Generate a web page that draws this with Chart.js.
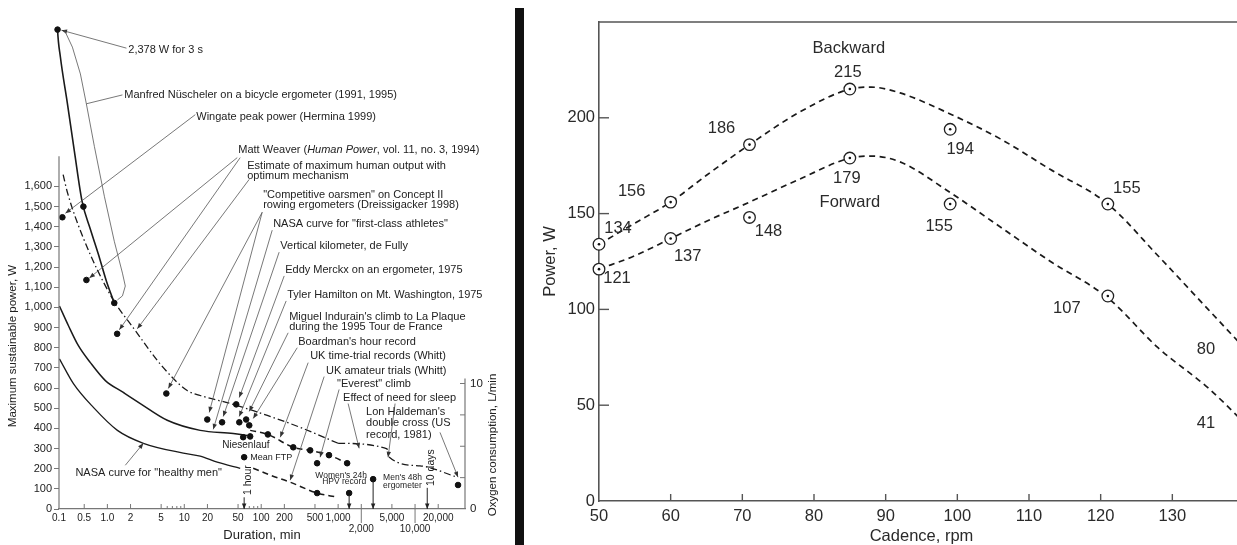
<!DOCTYPE html>
<html>
<head>
<meta charset="utf-8">
<title>Power vs duration / power vs cadence</title>
<script src="https://cdn.jsdelivr.net/npm/chart.js@4.4.1/dist/chart.umd.min.js"></script>
<style>
  html, body { margin: 0; padding: 0; background: #fff; overflow: hidden; }
  body { width: 1237px; height: 545px; position: relative; }
  #left { position: absolute; left: 0; top: 0; }
  #bar { position: absolute; left: 515px; top: 8px; width: 9px; height: 537px; background: #111; }
  #right { position: absolute; left: 525px; top: 0; }
</style>
</head>
<body>
<div id="left"><canvas id="durationChart" width="505" height="545"></canvas></div>
<div id="bar"></div>
<div id="right"><canvas id="cadenceChart" width="740" height="545"></canvas></div>

<script>
// ---------- left panel: maximum sustainable power vs duration ----------
const durationTicks = [0.235, 0.5, 1, 2, 5, 10, 20, 50, 100, 200, 500, 1000, 2000, 5000, 10000, 20000];
const durationTickText = ['0.1', '0.5', '1.0', '2', '5', '10', '20', '50', '100', '200', '500', '1,000', ['', '2,000'], '5,000', ['', '10,000'], '20,000'];
const durationMinorTicks = [6, 7, 8, 9, 60, 70, 80, 90];
const powerTicks = [0, 100, 200, 300, 400, 500, 600, 700, 800, 900, 1000, 1100, 1200, 1300, 1400, 1500, 1600];
const oxygenTicks = [0, 10];
const oxygenMinorTicks = [2.5, 5, 7.5, 10];

// [minutes, watts]
const nuschelerCurve = [[0.222, 2440], [0.225, 2378], [0.245, 2242], [0.30, 2020], [0.373, 1773], [0.469, 1526], [0.601, 1388], [0.764, 1264], [0.97, 1131], [1.23, 1022]];
const estimateCurve = [[0.266, 1659], [0.30, 1575], [0.488, 1343], [1.15, 1047], [2.17, 899], [5.34, 701], [10.9, 588], [16.1, 563], [43.3, 519], [120, 464], [321, 405], [1000, 326]];
const sleepCurve = [[1000, 326], [4330, 298], [4460, 262], [11600, 214], [35100, 158]];
const firstClassCurve = [[0.238, 1007], [0.312, 909], [0.42, 810], [0.601, 726], [0.942, 637], [1.61, 578], [2.68, 523], [6.0, 440], [16.1, 390], [43.3, 375], [65.8, 365]];
const healthyMenCurve = [[0.238, 745], [0.362, 622], [0.658, 504], [1.35, 390], [2.94, 326], [9.7, 277], [16.1, 262], [26.8, 232], [53.3, 202]];
const ukTrialCurve = [[71.9, 390], [122, 370], [261, 306], [433, 291], [761, 267], [1310, 227]];
const everestCurve = [[78.7, 202], [131, 168], [238, 133], [533, 79], [970, 59]];
const recordPoints = [[0.225, 2378], [0.26, 1447], [0.488, 1500], [0.534, 1136], [1.23, 1022], [1.34, 869], [5.84, 573],
  [19.9, 444], [31, 430], [47.3, 519], [51.9, 430], [63.7, 444], [69.9, 415], [58.3, 356], [71.8, 360], [122, 370],
  [261, 306], [433, 291], [533, 227], [761, 267], [1310, 227], [60, 257], [533, 79], [1390, 79], [2850, 148], [36200, 119]];
const nuschelerBrace = [[0.277, 2375], [0.351, 2291], [0.446, 2158], [0.533, 2010], [0.678, 1798], [0.914, 1551], [1.23, 1328], [1.57, 1170], [1.71, 1106], [1.57, 1057], [1.35, 1037]];

// text, minutes, watts (left edge, middle), font size
const durationNotes = [
  ['2,378 W for 3 s', 1.87, 2277, 11],
  ['Manfred Nüscheler on a bicycle ergometer (1991, 1995)', 1.66, 2054, 11],
  ['Wingate peak power (Hermina 1999)', 14.3, 1946, 11],
  ['Matt Weaver (|Human Power|, vol. 11, no. 3, 1994)', 50.3, 1783, 11],
  ['Estimate of maximum human output with', 65.8, 1704, 11],
  ['optimum mechanism', 65.8, 1652, 11],
  ['"Competitive oarsmen" on Concept II', 106, 1556, 11],
  ['rowing ergometers (Dreissigacker 1998)', 106, 1506, 11],
  ['NASA curve for "first-class athletes"', 143, 1412, 11],
  ['Vertical kilometer, de Fully', 177, 1304, 11],
  ['Eddy Merckx on an ergometer, 1975', 205, 1185, 11],
  ['Tyler Hamilton on Mt. Washington, 1975', 218, 1062, 11],
  ["Miguel Indurain's climb to La Plaque", 231, 953, 11],
  ['during the 1995 Tour de France', 231, 904, 11],
  ["Boardman's hour record", 303, 830, 11],
  ['UK time-trial records (Whitt)', 433, 760, 11],
  ['UK amateur trials (Whitt)', 698, 686, 11],
  ['"Everest" climb', 970, 622, 11],
  ['Effect of need for sleep', 1161, 553, 11],
  ["Lon Haldeman's", 2311, 479, 11],
  ['double cross (US', 2311, 425, 11],
  ['record, 1981)', 2311, 365, 11],
  ['Niesenlauf', 31.2, 316, 10],
  ['Mean FTP', 71.9, 257, 9],
  ["Men's 48h", 3840, 153, 8.5],
  ['ergometer', 3840, 114, 8.5],
  ['NASA curve for "healthy men"', 0.384, 178, 11],
];
const durationCentredNotes = [["Women's 24h", 1094, 166], ['HPV record', 1197, 136]];
const durationUpNotes = [['1 hour', 67, 143], ['10 days', 16100, 205]];
// from (min, W) to (min, W), arrowhead?
const durationLeaders = [
  [1.77, 2286, 0.253, 2375, 1],
  [1.57, 2054, 0.533, 2010, 0],
  [13.9, 1956, 0.285, 1467, 1],
  [48.8, 1743, 0.584, 1146, 1],
  [53.3, 1743, 1.43, 889, 1],
  [69.8, 1635, 2.45, 894, 1],
  [103, 1472, 6.2, 598, 1],
  [103, 1472, 21.1, 479, 1],
  [139, 1383, 23.8, 395, 1],
  [171, 1274, 32.1, 459, 1],
  [199, 1156, 51.8, 553, 1],
  [211, 1032, 51.8, 459, 1],
  [224, 874, 69.8, 484, 1],
  [294, 800, 78.7, 449, 1],
  [408, 726, 177, 356, 1],
  [658, 657, 238, 143, 1],
  [1030, 593, 583, 257, 1],
  [1349, 523, 1875, 301, 1],
  [5500, 523, 4460, 257, 1],
  [21100, 380, 36200, 158, 1],
  [1.71, 217, 2.94, 326, 1],
];
// vertical arrows down to the axis: minutes, starting watts
const durationDrops = [[60, 58], [1390, 66], [2850, 138], [14400, 105]];

// ---------- right panel: power vs cadence ----------
const cadence = [50, 60, 71, 85, 99, 121];
const backwardPower = [134, 156, 186, 215, 194, 155];
const forwardPower = [121, 137, 148, 179, 155, 107];
const fitCadence = [50, 55, 60, 65, 71, 78, 85, 88, 92, 99, 106, 113, 121, 128, 135, 140];
const backwardFit = [134, 145, 156, 170, 186, 203, 215, 216, 213, 202, 189, 173, 155, 128, 100, 80];
const forwardFit = [121, 128, 137, 146, 156, 168, 179, 180, 177, 161, 143, 125, 106, 80, 59, 41];
const cadenceTicks = [50, 60, 70, 80, 90, 100, 110, 120, 130];
const cadencePowerTicks = [0, 50, 100, 150, 200];
// label offsets in px from each point
const backwardLabelShift = [[19, -16], [-39, -11], [-28, -16], [-2, -17], [10, 20], [19, -16]];
const forwardLabelShift = [[18, 9], [17, 18], [19, 14], [-3, 20], [-11, 22], [-41, 12]];

const fontFamily = "'Liberation Sans', Arial, Helvetica, sans-serif";
const ink = '#222';
const axisGrey = '#777';
Chart.defaults.font.family = fontFamily;

const pairs = list => list.map(([x, y]) => ({x, y}));

function drawArrow(ctx, x1, y1, x2, y2, head) {
  ctx.beginPath();
  ctx.moveTo(x1, y1);
  ctx.lineTo(x2, y2);
  ctx.stroke();
  if (!head) return;
  const a = Math.atan2(y2 - y1, x2 - x1);
  ctx.beginPath();
  ctx.moveTo(x2, y2);
  ctx.lineTo(x2 - 6 * Math.cos(a - 0.38), y2 - 6 * Math.sin(a - 0.38));
  ctx.lineTo(x2 - 6 * Math.cos(a + 0.38), y2 - 6 * Math.sin(a + 0.38));
  ctx.closePath();
  ctx.fill();
}

const durationDecor = {
  id: 'durationDecor',
  afterDraw(chart) {
    const {ctx, chartArea: area, scales: {x, y, y2}} = chart;
    const px = v => x.getPixelForValue(v);
    const py = v => y.getPixelForValue(v);
    ctx.save();

    // axis lines
    ctx.strokeStyle = axisGrey;
    ctx.lineWidth = 1.2;
    ctx.beginPath();
    ctx.moveTo(area.left, py(1750));
    ctx.lineTo(area.left, py(0));
    ctx.stroke();
    ctx.beginPath();
    ctx.moveTo(area.right, y2.getPixelForValue(10.4));
    ctx.lineTo(area.right, y2.getPixelForValue(0));
    ctx.stroke();
    ctx.lineWidth = 1;
    oxygenMinorTicks.forEach(v => {
      const yy = y2.getPixelForValue(v);
      ctx.beginPath();
      ctx.moveTo(area.right - 5, yy);
      ctx.lineTo(area.right, yy);
      ctx.stroke();
    });
    durationTicks.slice(1).forEach(v => {
      const xx = px(v);
      const long = v === 2000 || v === 10000;
      ctx.beginPath();
      ctx.moveTo(xx, area.bottom - 5);
      ctx.lineTo(xx, long ? area.bottom + 14 : area.bottom);
      ctx.stroke();
    });
    durationMinorTicks.forEach(v => {
      ctx.beginPath();
      ctx.moveTo(px(v), area.bottom - 3);
      ctx.lineTo(px(v), area.bottom);
      ctx.stroke();
    });

    // leader lines
    ctx.strokeStyle = '#555';
    ctx.fillStyle = '#333';
    ctx.lineWidth = 0.8;
    durationLeaders.forEach(([m1, w1, m2, w2, head]) => drawArrow(ctx, px(m1), py(w1), px(m2), py(w2), head));
    ctx.beginPath();
    nuschelerBrace.forEach(([m, w], i) => (i ? ctx.lineTo(px(m), py(w)) : ctx.moveTo(px(m), py(w))));
    ctx.stroke();
    ctx.strokeStyle = '#222';
    ctx.fillStyle = '#222';
    ctx.lineWidth = 1;
    durationDrops.forEach(([m, w]) => drawArrow(ctx, px(m), py(w), px(m), py(0), 1));

    // notes
    ctx.fillStyle = ink;
    ctx.textBaseline = 'middle';
    ctx.textAlign = 'left';
    durationNotes.forEach(([text, m, w, size]) => {
      let xx = px(m);
      text.split('|').forEach((part, i) => {
        ctx.font = (i % 2 ? 'italic ' : '') + size + 'px ' + fontFamily;
        ctx.fillText(part, xx, py(w));
        xx += ctx.measureText(part).width;
      });
    });
    ctx.textAlign = 'center';
    ctx.font = '8.5px ' + fontFamily;
    durationCentredNotes.forEach(([text, m, w]) => ctx.fillText(text, px(m), py(w)));
    ctx.font = '10.5px ' + fontFamily;
    durationUpNotes.forEach(([text, m, w]) => {
      ctx.save();
      ctx.translate(px(m), py(w));
      ctx.rotate(-Math.PI / 2);
      ctx.fillText(text, 0, 0);
      ctx.restore();
    });

    // axis titles
    ctx.font = '11.5px ' + fontFamily;
    [['Maximum sustainable power, W', 13, 346], ['Oxygen consumption, L/min', 493, 445]].forEach(([text, xx, yy]) => {
      ctx.save();
      ctx.translate(xx, yy);
      ctx.rotate(-Math.PI / 2);
      ctx.fillText(text, 0, 0);
      ctx.restore();
    });
    ctx.restore();
  }
};

const curve = (list, dash, width) => ({
  data: pairs(list), showLine: true, pointRadius: 0, borderColor: '#1a1a1a', borderWidth: width,
  borderDash: dash, cubicInterpolationMode: 'monotone', clip: false
});

new Chart(document.getElementById('durationChart'), {
  type: 'scatter',
  data: {
    datasets: [
      {data: pairs(recordPoints), pointRadius: 2.8, pointBackgroundColor: '#111', pointBorderColor: '#111', pointBorderWidth: 1, clip: false},
      curve(nuschelerCurve, [], 1.6),
      curve(estimateCurve, [7, 3, 1.5, 3], 1.3),
      curve(sleepCurve, [7, 3, 1.5, 3], 1.3),
      curve(firstClassCurve, [], 1.5),
      curve(healthyMenCurve, [], 1.3),
      curve(ukTrialCurve, [6, 4], 1.5),
      curve(everestCurve, [6, 4], 1.5),
    ],
  },
  options: {
    responsive: false,
    animation: false,
    layout: {padding: {top: 3, left: 0, right: 0, bottom: 0}},
    plugins: {legend: {display: false}, tooltip: {enabled: false}},
    scales: {
      x: {
        type: 'logarithmic', min: 0.235, max: 44600,
        afterBuildTicks: s => { s.ticks = durationTicks.map(value => ({value})); },
        afterFit: s => { s.height = 36; },
        grid: {display: false, drawTicks: false, tickLength: 0},
        border: {display: true, color: axisGrey, width: 1.2},
        ticks: {
          autoSkip: false, maxRotation: 0, padding: 4, color: ink,
          font: {size: 10, lineHeight: 1.05},
          callback: (v, i) => durationTickText[i],
        },
        title: {display: true, text: 'Duration, min', color: ink, font: {size: 13}, padding: {top: 0, bottom: 2}},
      },
      y: {
        min: 0, max: 2500,
        afterBuildTicks: s => { s.ticks = powerTicks.map(value => ({value})); },
        afterFit: s => { s.width = 59; s.paddingTop = 0; s.paddingBottom = 0; },
        grid: {display: true, drawOnChartArea: false, drawTicks: true, tickLength: 5, color: axisGrey},
        border: {display: false},
        ticks: {padding: 2, color: ink, font: {size: 11}, callback: v => v.toLocaleString('en-US')},
      },
      y2: {
        position: 'right', min: 0, max: 40.16,
        afterBuildTicks: s => { s.ticks = oxygenTicks.map(value => ({value})); },
        afterFit: s => { s.width = 40; s.paddingTop = 0; s.paddingBottom = 0; },
        grid: {display: false, drawTicks: false, tickLength: 0},
        border: {display: false},
        ticks: {padding: 5, color: ink, font: {size: 11.5}},
      },
    },
  },
  plugins: [durationDecor],
});

// ---------- right chart ----------
const cadenceDecor = {
  id: 'cadenceDecor',
  afterDraw(chart) {
    const {ctx, chartArea: area, scales: {x, y}} = chart;
    ctx.save();
    ctx.strokeStyle = '#555';
    ctx.lineWidth = 1.6;
    ctx.beginPath();
    ctx.moveTo(area.left, area.top);
    ctx.lineTo(chart.width, area.top);
    ctx.stroke();
    ctx.lineWidth = 1.4;
    cadencePowerTicks.slice(1).forEach(v => {
      const yy = y.getPixelForValue(v);
      ctx.beginPath();
      ctx.moveTo(area.left, yy);
      ctx.lineTo(area.left + 10, yy);
      ctx.stroke();
    });
    cadenceTicks.slice(1).forEach(v => {
      const xx = x.getPixelForValue(v);
      ctx.beginPath();
      ctx.moveTo(xx, area.bottom);
      ctx.lineTo(xx, area.bottom - 7);
      ctx.stroke();
    });

    ctx.fillStyle = '#2a2a2a';
    ctx.font = '16.5px ' + fontFamily;
    ctx.textAlign = 'center';
    ctx.textBaseline = 'middle';
    const put = (text, cx, cy, dx, dy) => ctx.fillText(text, x.getPixelForValue(cx) + dx, y.getPixelForValue(cy) + dy);
    cadence.forEach((c, i) => {
      put(String(backwardPower[i]), c, backwardPower[i], ...backwardLabelShift[i]);
      put(String(forwardPower[i]), c, forwardPower[i], ...forwardLabelShift[i]);
    });
    put('Backward', cadence[3], backwardPower[3], -1, -41);
    put('Forward', cadence[3], forwardPower[3], 0, 44);
    const last = fitCadence.length - 1;
    put(String(backwardFit[last]), fitCadence[last], backwardFit[last], -38, 2);
    put(String(forwardFit[last]), fitCadence[last], forwardFit[last], -38, 1);
    ctx.restore();
  }
};

const markers = power => ({
  data: cadence.map((c, i) => ({x: c, y: power[i]})),
  pointRadius: 5.8, pointBackgroundColor: '#fff', pointBorderColor: '#222', pointBorderWidth: 1.3, clip: false
});
const centres = power => ({
  data: cadence.map((c, i) => ({x: c, y: power[i]})),
  pointRadius: 1.3, pointBackgroundColor: '#111', pointBorderWidth: 0, clip: false
});
const fitLine = power => ({
  data: fitCadence.map((c, i) => ({x: c, y: power[i]})),
  showLine: true, pointRadius: 0, borderColor: '#1a1a1a', borderWidth: 1.7, borderDash: [6, 4.5],
  cubicInterpolationMode: 'monotone', clip: false
});

new Chart(document.getElementById('cadenceChart'), {
  type: 'scatter',
  data: {
    datasets: [
      centres(backwardPower), centres(forwardPower),
      markers(backwardPower), markers(forwardPower),
      fitLine(backwardFit), fitLine(forwardFit),
    ],
  },
  options: {
    responsive: false,
    animation: false,
    layout: {padding: {top: 22, right: 21, left: 0, bottom: 0}},
    plugins: {legend: {display: false}, tooltip: {enabled: false}},
    scales: {
      x: {
        min: 50, max: 140,
        afterBuildTicks: s => { s.ticks = cadenceTicks.map(value => ({value})); },
        afterFit: s => { s.height = 44; },
        grid: {display: false, drawTicks: false, tickLength: 0},
        border: {display: true, color: '#555', width: 1.6},
        ticks: {autoSkip: false, maxRotation: 0, padding: 6, color: '#2a2a2a', font: {size: 16.5}},
        title: {display: true, text: 'Cadence, rpm', color: '#2a2a2a', font: {size: 16.5, lineHeight: 1.0}, padding: {top: 0, bottom: 0}},
      },
      y: {
        min: 0, max: 250,
        afterBuildTicks: s => { s.ticks = cadencePowerTicks.map(value => ({value})); },
        afterFit: s => { s.width = 74; },
        grid: {display: false, drawTicks: false, tickLength: 0},
        border: {display: true, color: '#555', width: 1.6},
        ticks: {padding: 4, color: '#2a2a2a', font: {size: 16.5}},
        title: {display: true, text: 'Power, W', color: '#2a2a2a', font: {size: 16.5}, padding: {top: 16, bottom: 0}},
      },
    },
  },
  plugins: [cadenceDecor],
});
</script>
</body>
</html>
